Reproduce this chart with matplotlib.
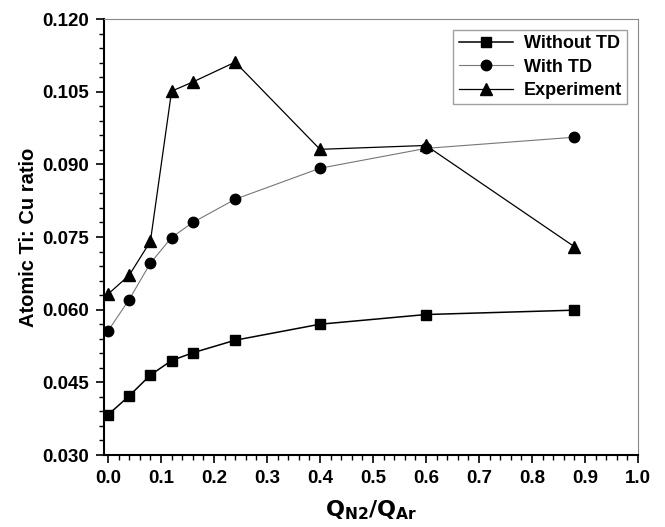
import matplotlib
matplotlib.use('Agg')
import matplotlib.pyplot as plt
from matplotlib.ticker import MultipleLocator

plt.rcParams['font.family'] = ['Liberation Sans', 'DejaVu Sans']
plt.rcParams['font.weight'] = 'bold'

# Data
ratio = [0.0, 0.04, 0.08, 0.12, 0.16, 0.24, 0.40, 0.60, 0.88]
without_td = [0.0383, 0.0422, 0.0465, 0.0495, 0.0511, 0.0537, 0.0570, 0.0590, 0.0599]
with_td = [0.0556, 0.0621, 0.0696, 0.0749, 0.0780, 0.0828, 0.0892, 0.0933, 0.0956]
experiment = [0.0632, 0.0671, 0.0741, 0.1051, 0.1070, 0.1111, 0.0931, 0.0939, 0.0730]

fig = plt.figure(figsize=(6.65, 5.27), dpi=100)
ax = fig.add_axes([0.1564, 0.1366, 0.803, 0.8273])

ax.plot(ratio, without_td, color='black', lw=1.1, marker='s', ms=7, label='Without TD')
ax.plot(ratio, with_td, color='#777777', lw=0.8, marker='o', ms=7.5,
        mfc='black', mec='black', label='With TD')
ax.plot(ratio, experiment, color='black', lw=0.9, marker='^', ms=8.5, label='Experiment')

ax.set_xlim(-0.0075, 1.0)
ax.set_ylim(0.030, 0.120)
ax.xaxis.set_major_locator(MultipleLocator(0.1))
ax.xaxis.set_minor_locator(MultipleLocator(0.02))
ax.yaxis.set_major_locator(MultipleLocator(0.015))
ax.yaxis.set_minor_locator(MultipleLocator(0.003))
ax.xaxis.set_major_formatter(matplotlib.ticker.FormatStrFormatter('%.1f'))
ax.yaxis.set_major_formatter(matplotlib.ticker.FormatStrFormatter('%.3f'))

ax.tick_params(which='major', direction='out', length=6, width=1.2, labelsize=13.5, pad=5)
ax.tick_params(which='minor', direction='out', length=3.5, width=1.0)
for lab in ax.get_xticklabels() + ax.get_yticklabels():
    lab.set_fontweight('bold')

ax.spines['left'].set_linewidth(1.5)
ax.spines['bottom'].set_linewidth(1.5)
ax.spines['top'].set_color('#888888')
ax.spines['right'].set_color('#888888')

ax.set_xlabel(r'$\mathbf{Q_{N2}/Q_{Ar}}$', fontsize=16, labelpad=8)
ax.set_ylabel('Atomic Ti: Cu ratio', fontsize=14.5, fontweight='bold', labelpad=3)

leg = ax.legend(loc='upper right', fontsize=13, frameon=True, fancybox=False,
                edgecolor='#888888', borderaxespad=0.6, handlelength=3.0,
                handletextpad=0.6, labelspacing=0.35, borderpad=0.3)
leg.get_frame().set_linewidth(1.0)
for t in leg.get_texts():
    t.set_fontweight('bold')

plt.savefig('out.png', dpi=100)
